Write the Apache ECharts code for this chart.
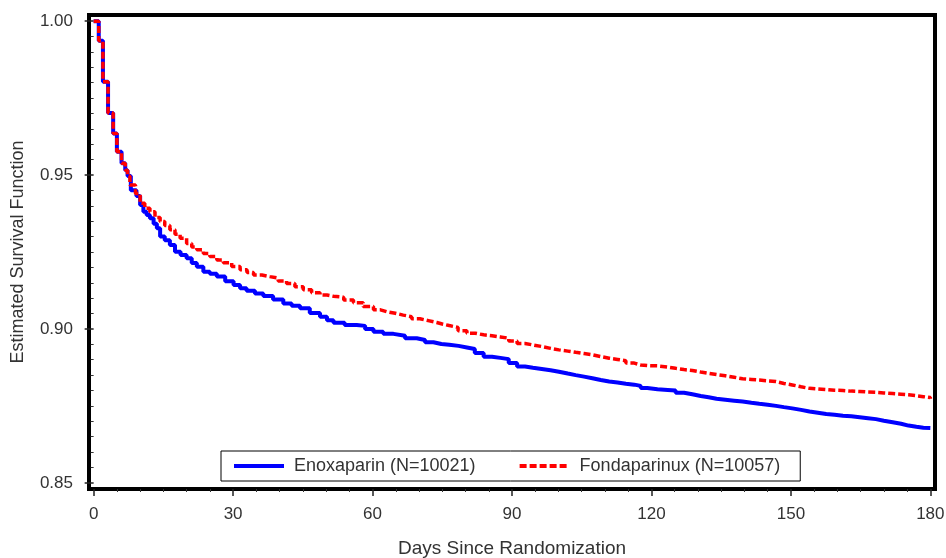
<!DOCTYPE html>
<html>
<head>
<meta charset="utf-8">
<script src="https://cdn.jsdelivr.net/npm/echarts@6/dist/echarts.min.js"></script>
<style>
html,body{margin:0;padding:0;background:#fff;}
#chart{width:946px;height:558px;}
</style>
</head>
<body>
<div id="chart"></div>
<script>
// ---- data ----
const enoxName = 'Enoxaparin (N=10021)';
const fondaName = 'Fondaparinux (N=10057)';

const enoxDays = [0,1.1,2,3.1,4.2,5,6,6.8,7.3,8,9.2,10,10.7,11.4,12.1,12.9,13.6,14.3,15.3,16.4,17.5,18.7,20,21.1,22.2,23.6,25,26.5,28.3,30.1,31.5,32.9,34.7,36.5,38.6,40.8,42.6,44.4,46.5,48.7,50.2,51.6,54,56.6,58.4,60.2,62.3,64.5,67,69.5,71.3,73.1,74.8,76.5,78.5,80.3,82,83.9,85.7,87.5,89.3,91.1,92.8,94.5,96.4,98.3,100.1,102,103.7,105.5,107.3,109.1,110.9,112.7,114.5,116.3,117.7,119.1,121.3,123.5,125.2,127,128.8,130.6,132.3,134,135.9,137.8,139.6,141.5,143.2,145,146.8,148.5,150.3,152.2,154,155.8,157.6,159.4,161.2,163,164.8,166.6,168.3,170,171.9,173.7,175.3,177,178.5,180];
const enoxSurv = [1.0,0.9936,0.9803,0.9702,0.9635,0.9576,0.9538,0.9516,0.9497,0.9451,0.9432,0.9403,0.9381,0.937,0.936,0.9342,0.9327,0.93,0.9288,0.9273,0.9251,0.924,0.923,0.9214,0.9202,0.9186,0.9179,0.917,0.9155,0.9143,0.9132,0.9124,0.9115,0.9107,0.9096,0.9083,0.9075,0.9067,0.9052,0.904,0.9028,0.902,0.9013,0.901,0.9,0.8991,0.8984,0.8978,0.897,0.8964,0.8957,0.8951,0.8949,0.8945,0.894,0.8935,0.8922,0.891,0.8906,0.8902,0.8889,0.8878,0.8874,0.887,0.8866,0.8861,0.8855,0.885,0.8845,0.884,0.8834,0.8829,0.8826,0.8822,0.8819,0.8815,0.8808,0.8804,0.8802,0.88,0.8793,0.8788,0.8782,0.8778,0.8773,0.877,0.8767,0.8764,0.876,0.8757,0.8754,0.875,0.8746,0.8742,0.8737,0.8732,0.8728,0.8724,0.8721,0.8718,0.8716,0.8713,0.871,0.8707,0.8702,0.8697,0.8692,0.8686,0.8682,0.8679,0.8678,0.8678];

const fondaDays = [0,1.1,2,3.1,4.2,5,6,6.8,7.3,7.8,9,10,11,12.1,13.2,14.3,15.3,16.4,17.5,18.6,20,21.1,22.2,23.6,25,26.5,27.9,29.7,31.5,33,34.4,36.2,37.9,39.7,41.5,43.3,45.1,46.9,48.7,50.2,51.6,53.8,55.9,58,60.2,61.7,63.1,64.9,66.6,68.4,70.2,72,73.8,75,76.5,78.4,80.3,82.1,83.9,85.7,87.5,89.3,91.1,92.8,94.5,96.4,98.3,100.1,102,103.7,105.5,107.3,109.1,110.9,112.7,114.5,116.3,117.7,119.1,121.3,123.5,125.2,127,128.8,130.6,132.3,134,135.9,137.8,139.6,141.5,143.2,145,146.8,148.5,150.3,152.2,154,155.8,157.6,159.4,161.2,163,164.8,166.6,168.3,170,171.9,173.7,175.3,177,178.5,180];
const fondaSurv = [1.0,0.9936,0.9803,0.9702,0.9635,0.9576,0.9538,0.9516,0.9497,0.9468,0.944,0.9408,0.9392,0.9381,0.9362,0.9349,0.9336,0.9322,0.9308,0.9295,0.9278,0.9266,0.9257,0.9245,0.9235,0.9224,0.9215,0.9203,0.9192,0.9183,0.9175,0.917,0.9165,0.9156,0.9148,0.9137,0.9127,0.9118,0.911,0.9106,0.9103,0.9094,0.9085,0.9073,0.9062,0.9056,0.9051,0.9045,0.904,0.9033,0.9027,0.9021,0.9016,0.9011,0.9005,0.8994,0.8986,0.8981,0.8978,0.8974,0.897,0.8961,0.8953,0.8948,0.8943,0.8937,0.8932,0.8928,0.8924,0.892,0.8916,0.891,0.8905,0.8901,0.8897,0.8889,0.8883,0.8881,0.888,0.8876,0.8872,0.8868,0.8865,0.886,0.8856,0.8852,0.8848,0.8843,0.8838,0.8836,0.8834,0.8831,0.8829,0.8823,0.8818,0.8812,0.8807,0.8805,0.8803,0.8801,0.88,0.8798,0.8797,0.8795,0.8794,0.8792,0.879,0.8788,0.8786,0.8783,0.878,0.8777,0.8773];

const xMajorTicks = [0,30,60,90,120,150,180];
const xMinorTicks = [5,10,15,20,25,35,40,45,50,55,65,70,75,80,85,95,100,105,110,115,125,130,135,140,145,155,160,165,170,175];
const yMajorTicks = [0.85,0.90,0.95,1.00];
const yMinorTicks = [0.855,0.86,0.865,0.87,0.875,0.88,0.885,0.89,0.895,0.905,0.91,0.915,0.92,0.925,0.93,0.935,0.94,0.945,0.955,0.96,0.965,0.97,0.975,0.98,0.985,0.99,0.995];

const xTitle = 'Days Since Randomization';
const yTitle = 'Estimated Survival Function';

// ---- chart ----
const FONT = '"Liberation Sans", Arial, sans-serif';
const chart = echarts.init(document.getElementById('chart'), null, {renderer:'canvas'});
const pairs = (xs, ys) => xs.map((x, i) => [x, ys[i]]);

const XMIN = -1, XMAX = 181, YMIN = 0.848, YMAX = 1.002;

chart.setOption({
  backgroundColor: '#ffffff',
  animation: false,
  textStyle: {fontFamily: FONT},
  grid: {left: 89, right: 11, top: 15, bottom: 69, show: true, borderColor: '#000', borderWidth: 4,
    backgroundColor: 'transparent', containLabel: false, outerBoundsMode: 'none'},
  legend: {
    left: 221, top: 451,
    itemWidth: 50, itemHeight: 14, itemGap: 42,
    padding: [6, 20, 6, 11],
    borderColor: '#000', borderWidth: 1,
    backgroundColor: '#fff',
    itemStyle: {opacity: 0},
    lineStyle: {width: 4},
    textStyle: {fontFamily: FONT, fontSize: 18, color: '#333', padding: [0, 0, 0, 5]},
    data: [enoxName, fondaName]
  },
  xAxis: [{
    type: 'value', min: XMIN, max: XMAX,
    name: xTitle, nameLocation: 'middle', nameGap: 50,
    nameTextStyle: {fontFamily: FONT, fontSize: 19, color: '#333', verticalAlign: 'top'},
    axisLine: {show: false},
    splitLine: {show: false},
    axisTick: {show: true, length: 7, inside: false, customValues: xMajorTicks, lineStyle: {color: '#222', width: 1.5}},
    axisLabel: {customValues: xMajorTicks, margin: 17, fontSize: 17, color: '#333', fontFamily: FONT}
  }, {
    type: 'value', min: XMIN, max: XMAX, position: 'bottom',
    axisLine: {show: false}, splitLine: {show: false},
    axisTick: {show: true, length: 3, customValues: xMinorTicks, lineStyle: {color: '#333', width: 1}},
    axisLabel: {show: false}
  }],
  yAxis: [{
    type: 'value', min: YMIN, max: YMAX,
    name: yTitle, nameLocation: 'middle', nameGap: 62,
    nameTextStyle: {fontFamily: FONT, fontSize: 18, color: '#333'},
    axisLine: {show: false},
    splitLine: {show: false},
    axisTick: {show: true, length: 9, customValues: yMajorTicks, lineStyle: {color: '#222', width: 1.5}},
    axisLabel: {customValues: yMajorTicks, margin: 16, fontSize: 17, color: '#333', fontFamily: FONT,
      formatter: v => v.toFixed(2)}
  }, {
    type: 'value', min: YMIN, max: YMAX, position: 'left',
    axisLine: {show: false}, splitLine: {show: false},
    axisTick: {show: true, length: 3, customValues: yMinorTicks, lineStyle: {color: '#333', width: 1}},
    axisLabel: {show: false}
  }],
  series: [{
    name: enoxName, type: 'line', step: 'end',
    xAxisIndex: 0, yAxisIndex: 0,
    symbol: 'none', showSymbol: false,
    color: '#0000ff',
    lineStyle: {color: '#0000ff', width: 4},
    data: pairs(enoxDays, enoxSurv),
    z: 2
  }, {
    name: fondaName, type: 'line', step: 'end',
    xAxisIndex: 0, yAxisIndex: 0,
    symbol: 'none', showSymbol: false,
    color: '#ff0000',
    lineStyle: {color: '#ff0000', width: 3.5, type: [7, 3]},
    data: pairs(fondaDays, fondaSurv),
    z: 3
  }]
});
</script>
</body>
</html>
